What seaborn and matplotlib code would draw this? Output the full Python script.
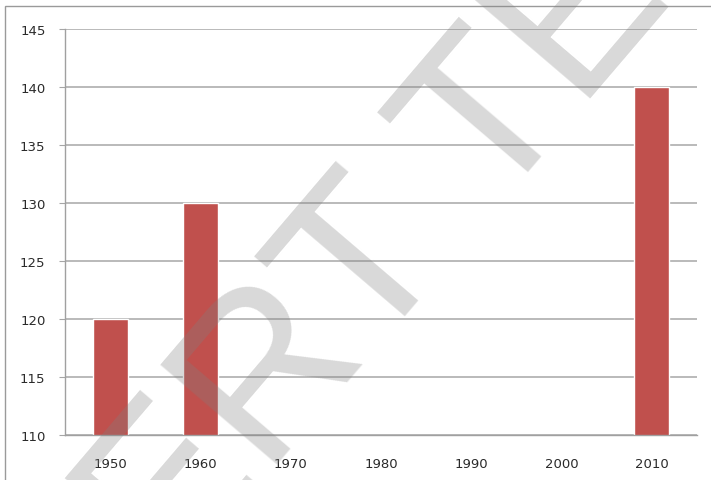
import numpy as np
import pandas as pd
import matplotlib
matplotlib.use("Agg")
import matplotlib.pyplot as plt
import seaborn as sns
from matplotlib.patches import Rectangle

# values (blank decades have no bar)
years = ["1950", "1960", "1970", "1980", "1990", "2000", "2010"]
values = [120, 130, np.nan, np.nan, np.nan, np.nan, 140]
y_ticks = [110, 115, 120, 125, 130, 135, 140, 145]

df = pd.DataFrame({"year": years, "value": values})

sns.set_style("white")
plt.rcParams["font.family"] = ["DejaVu Sans"]

fig = plt.figure(figsize=(7.11, 4.81), dpi=100)
ax = fig.add_axes([0.0914, 0.0936, 0.8886, 0.844])

sns.barplot(data=df, x="year", y="value", order=years, color="#C0504D",
            saturation=1, width=0.39, ax=ax, zorder=2)

ax.set_ylim(110, 145)
ax.set_xlim(-0.5, 6.5)
ax.set_yticks(y_ticks)
ax.set_xlabel("")
ax.set_ylabel("")
ax.grid(axis="y", color="#B4B4B4", linewidth=1.3, zorder=0)
ax.set_axisbelow(True)

for side in ["top", "right"]:
    ax.spines[side].set_visible(False)
for side in ["left", "bottom"]:
    ax.spines[side].set_color("#A0A0A0")
    ax.spines[side].set_linewidth(1.0)

# category boundary ticks like the spreadsheet chart
ax.set_xticks(np.arange(-0.5, 7.0, 1.0), minor=True)
ax.tick_params(axis="x", which="minor", length=4, color="#A6A6A6", width=0.8)
ax.tick_params(axis="x", which="major", length=0, labelsize=9.5, pad=16,
               labelcolor="#2A2A2A")
ax.tick_params(axis="y", length=4, color="#A6A6A6", width=0.8, left=True,
               labelsize=9.5, pad=10, labelcolor="#2A2A2A")

# thin frame around the whole chart area
fig.patches.append(Rectangle((5 / 711, -0.05), 1.2, 1 - 7 / 481 + 0.05,
                             transform=fig.transFigure, fill=False,
                             edgecolor="#9A9A9A", linewidth=1.0))

# diagonal watermark
fig.text(170 / 711, 1 - 591 / 481, "ERT TE", fontsize=160, rotation=49.5,
         rotation_mode="anchor", ha="left", va="baseline",
         family="Liberation Sans", color="gray", alpha=0.3, zorder=10)

fig.savefig("out.png", dpi=100)
